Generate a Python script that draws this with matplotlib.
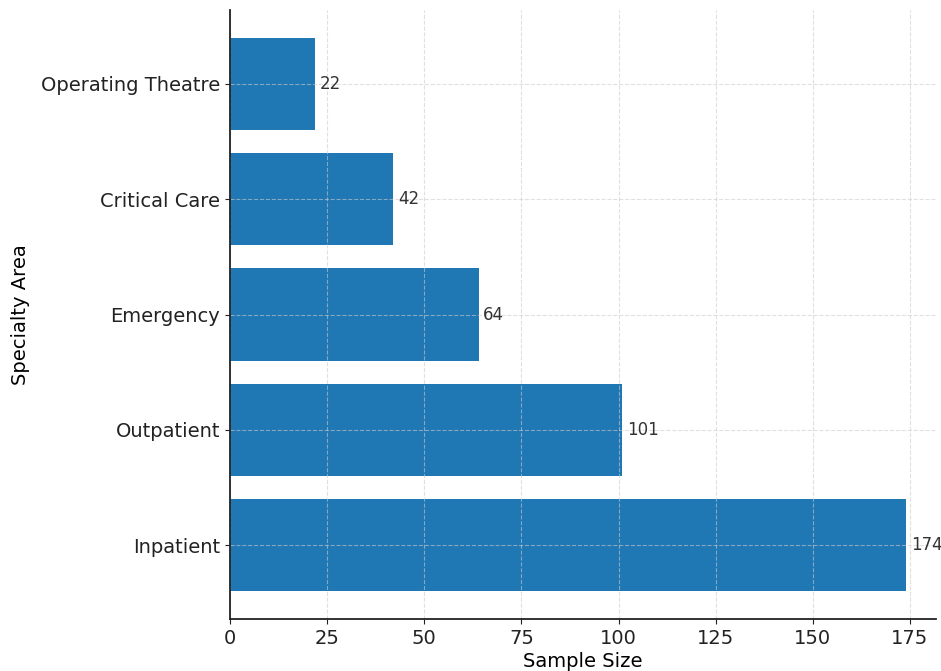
import matplotlib
matplotlib.use("Agg")
import matplotlib.pyplot as plt

# data
areas = ["Inpatient", "Outpatient", "Emergency", "Critical Care", "Operating Theatre"]
sample_sizes = [174, 101, 64, 42, 22]

fig = plt.figure(figsize=(9.41, 6.71), dpi=100)
ax = fig.add_axes([230 / 941, 52 / 671, 706 / 941, 609 / 671])

bars = ax.barh(areas, sample_sizes, color="#1f77b4", height=0.8)
for bar, val in zip(bars, sample_sizes):
    ax.text(bar.get_width() + 1.2, bar.get_y() + bar.get_height() / 2, str(val),
            va="center", ha="left", fontsize=12, color="#333333")

ax.set_xlim(0, 181.7)
ax.set_xticks([0, 25, 50, 75, 100, 125, 150, 175])
ax.set_xlabel("Sample Size", fontsize=14, labelpad=3)
ax.set_ylabel("Specialty Area", fontsize=14, labelpad=8)
ax.tick_params(axis="both", labelsize=14, colors="#222222")
ax.grid(True, linestyle="--", color="#cccccc", alpha=0.6)
ax.spines["top"].set_visible(False)
ax.spines["right"].set_visible(False)
for s in ("left", "bottom"):
    ax.spines[s].set_linewidth(1.3)
    ax.spines[s].set_color("#222222")

fig.savefig("out.png", dpi=100)
